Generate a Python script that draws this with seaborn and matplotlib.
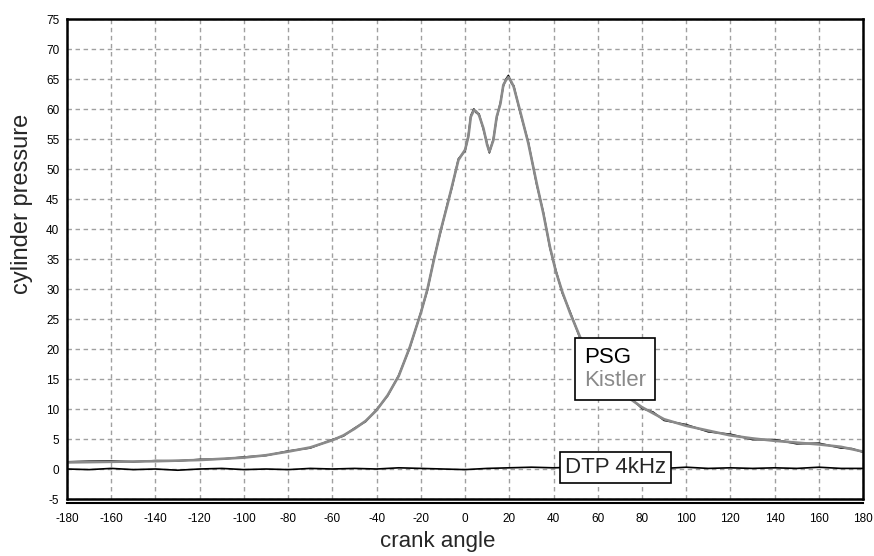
import matplotlib
matplotlib.use("Agg")
import matplotlib.pyplot as plt
import seaborn as sns

# crank angle samples for the pressure traces
angle = [-180, -170, -160, -150, -140, -130, -120, -110, -100, -90,
         -80, -70, -60, -55, -50, -45, -40, -35, -30, -25,
         -20, -17, -14, -11, -8, -6, -3, 0, 1.5, 2.6,
         4, 5, 6.3, 8.3, 10, 11, 12.8, 14.3, 16, 17.3,
         18.5, 19.6, 21, 22, 24.8, 28.6, 32.4, 35.4, 38.4, 41,
         44, 47.5, 52, 56, 60, 65, 70, 75, 80, 85,
         90, 100, 110, 120, 130, 140, 150, 160, 170, 175,
         180]

kistler = [1.1, 1.15, 1.2, 1.25, 1.3, 1.4, 1.5, 1.7, 1.9, 2.3,
           2.9, 3.6, 4.8, 5.6, 6.7, 8.0, 9.8, 12.3, 15.5, 20.3,
           26.0, 30.0, 35.0, 39.8, 44.0, 47.0, 51.5, 53.2, 55.4, 58.7,
           59.8, 59.6, 59.0, 56.8, 54.0, 52.9, 54.8, 58.7, 60.9, 64.0,
           64.8, 65.3, 64.5, 63.7, 59.8, 54.3, 47.6, 42.6, 37.0, 33.0,
           29.5, 26.0, 22.0, 19.3, 17.3, 15.0, 13.0, 11.6, 10.3, 9.3,
           8.3, 7.2, 6.4, 5.6, 5.1, 4.7, 4.4, 4.1, 3.7, 3.3,
           2.9]

psg = [1.2, 1.3, 1.35, 1.2, 1.4, 1.35, 1.6, 1.65, 2.0, 2.25,
       3.0, 3.5, 4.9, 5.5, 6.8, 7.9, 9.9, 12.2, 15.6, 20.2,
       26.1, 29.8, 35.2, 39.6, 44.2, 46.8, 51.7, 53.0, 55.6, 58.9,
       60.0, 59.4, 59.2, 56.6, 54.2, 52.7, 55.0, 58.5, 61.1, 63.8,
       65.0, 65.6, 64.3, 63.9, 59.6, 54.5, 47.4, 42.8, 36.8, 33.2,
       29.3, 26.2, 21.8, 19.5, 17.1, 15.2, 12.8, 11.8, 10.1, 9.5,
       8.1, 7.4, 6.2, 5.8, 4.9, 4.9, 4.2, 4.3, 3.5, 3.4,
       2.8]

dtp_angle = list(range(-180, 181, 10))
dtp = [0.0, -0.1, 0.1, -0.1, 0.0, -0.2, 0.0, 0.1, -0.1, 0.0,
       -0.1, 0.1, 0.0, 0.1, 0.0, 0.2, 0.1, 0.0, -0.1, 0.1,
       0.2, 0.3, 0.2, 0.3, 0.2, 0.1, 0.2, 0.1, 0.3, 0.1,
       0.2, 0.1, 0.2, 0.1, 0.3, 0.1, 0.1]

x_ticks = list(range(-180, 181, 20))
y_ticks = list(range(-5, 76, 5))

sns.set_style("white")
plt.rcParams['font.family'] = ['Liberation Sans', 'DejaVu Sans']
plt.rcParams['axes.unicode_minus'] = False

fig = plt.figure(figsize=(8.74, 5.56), dpi=100)
ax = fig.add_axes([0.0767, 0.1025, 0.9108, 0.8633])

# traces
sns.lineplot(x=dtp_angle, y=dtp, color="black", linewidth=1.2, ax=ax)
sns.lineplot(x=angle, y=psg, color="black", linewidth=1.2, ax=ax)
sns.lineplot(x=angle, y=kistler, color="#8a8a8a", linewidth=1.9, ax=ax)

ax.set_xlim(-180, 180)
ax.set_ylim(-5, 75)
ax.set_xticks(x_ticks)
ax.set_yticks(y_ticks)

# dashed grid
ax.grid(True, color="#a0a0a0", linestyle=(0, (3.2, 2.6)), linewidth=1.0)
ax.set_axisbelow(True)

# frame
for side in ["left", "right", "top", "bottom"]:
    ax.spines[side].set_color("black")
    ax.spines[side].set_linewidth(1.8)
ax.spines["bottom"].set_position(("outward", 2.7))
ax.spines["bottom"].set_linewidth(1.5)
ax.axhline(-5, color="black", linewidth=1.8, clip_on=False, zorder=6)

ax.tick_params(axis="both", direction="out", length=3.5, width=1.3,
               labelsize=8.5, pad=2, colors="black")
ax.tick_params(axis="x", pad=4)

ax.set_xlabel("crank angle", fontsize=16)
ax.set_ylabel("cylinder pressure", fontsize=17)
ax.xaxis.set_label_coords(0.466, -0.066)
ax.yaxis.set_label_coords(-0.043, 0.615)

# legend boxes
leg = ax.legend(handles=ax.lines[1:3], labels=["PSG", "Kistler"],
                loc="upper left", bbox_to_anchor=(49.7, 21.8),
                bbox_transform=ax.transData, borderaxespad=0,
                handlelength=0, handletextpad=0, fontsize=16,
                labelcolor=["black", "#8a8a8a"], labelspacing=0.1,
                borderpad=0.4, frameon=True, fancybox=False)
leg.get_frame().set_edgecolor("black")
leg.get_frame().set_linewidth(1.2)
leg.get_frame().set_alpha(1)
for h in leg.legend_handles:
    h.set_visible(False)

ax.text(68, 0.2, "DTP 4kHz", fontsize=16, ha="center", va="center", zorder=7,
        bbox=dict(boxstyle="square,pad=0.22", facecolor="white",
                  edgecolor="black", linewidth=1.2))

fig.savefig("out.png", dpi=100)
